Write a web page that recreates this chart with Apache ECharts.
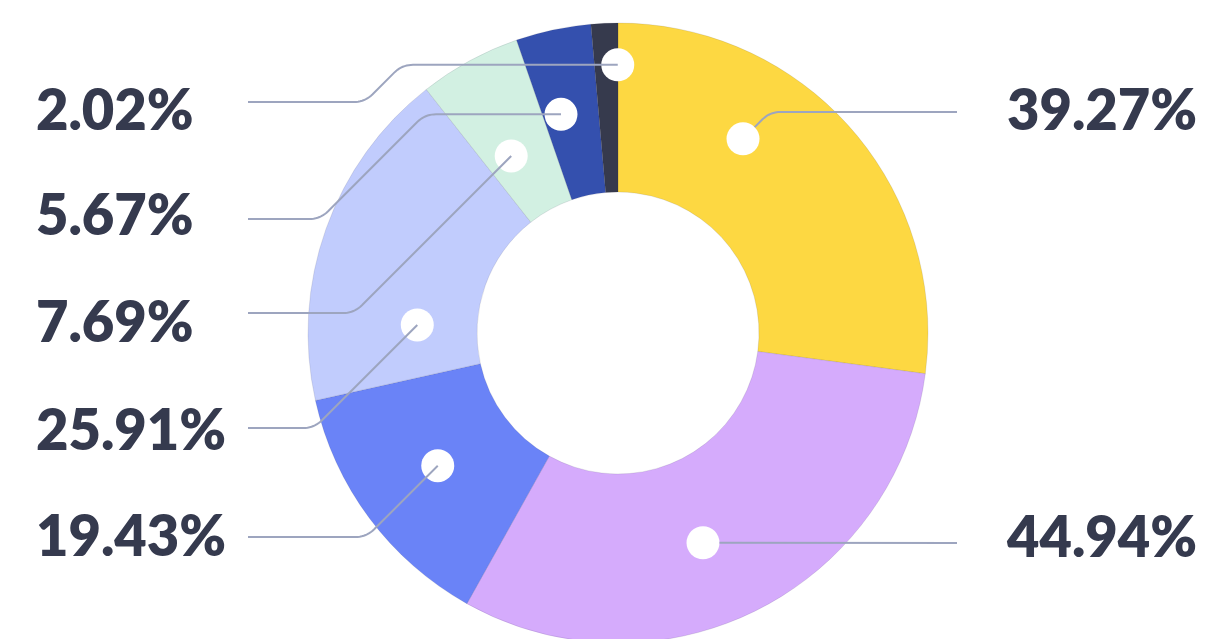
<!DOCTYPE html>
<html>
<head>
<meta charset="utf-8">
<style>
  html, body { margin: 0; padding: 0; background: #ffffff; }
  #chart { width: 1205px; height: 639px; }
</style>
<script src="https://cdn.jsdelivr.net/npm/echarts@6/dist/echarts.min.js"></script>
</head>
<body>
<div id="chart"></div>
<script>
// Segments, clockwise from 12 o'clock
const segmentNames = ['Segment A', 'Segment B', 'Segment C', 'Segment D', 'Segment E', 'Segment F', 'Segment G'];
const segmentValues = [39.27, 44.94, 19.43, 25.91, 7.69, 5.67, 2.02];
const segmentColors = ['#FDD842', '#D5ABFC', '#6A83F7', '#C1CCFD', '#D2F0E2', '#3450AE', '#363A4D'];

// Label layout (pixels): which column, row of the text, row of the leader's last run
const labelSide = ['right', 'right', 'left', 'left', 'left', 'left', 'left'];
const labelRowY = [112, 539, 538, 432, 324, 217, 112];
const leaderRowY = [112, 543, 537, 428, 313, 219, 102];
const leaderKneeX = [null, null, null, null, null, 425, 402];
// Leader start inside each slice: fraction of the sweep, fraction of the outer radius
const anchorSweep = [0.336, 0.541, 0.507, 0.231, 0.372, 0.319, 0.99];
const anchorRadius = [0.745, 0.73, 0.722, 0.648, 0.667, 0.729, 0.865];

const TEXT_COLOR = '#353A4E';
const LEADER_COLOR = '#9DA5BF';
const DOT_R = 16.5;
const columnX = { left: 36, right: 1007 };
const leaderEndX = { left: 248, right: 957 };

const chart = echarts.init(document.getElementById('chart'), null, { renderer: 'canvas' });

chart.setOption({
  animation: false,
  backgroundColor: '#ffffff',
  series: [{
    type: 'pie',
    center: [618, 333],
    radius: [141, 310],
    startAngle: 90,
    clockwise: true,
    avoidLabelOverlap: false,
    silent: true,
    itemStyle: { borderColor: 'rgba(40,40,60,0.22)', borderWidth: 0.5 },
    label: {
      show: true,
      position: 'outside',
      formatter: p => p.value.toFixed(2) + '%',
      fontFamily: 'Lato',
      fontWeight: 800,
      fontSize: 56,
      color: TEXT_COLOR
    },
    labelLine: { show: false },
    labelLayout: p => ({
      x: columnX[labelSide[p.dataIndex]],
      y: labelRowY[p.dataIndex],
      align: 'left',
      verticalAlign: 'middle'
    }),
    data: segmentValues.map((v, i) => ({
      name: segmentNames[i],
      value: v,
      itemStyle: { color: segmentColors[i] }
    }))
  }]
});

// Polyline with softened corners (quadratic corner sampled into points)
function roundedPoints(pts, rad) {
  const clean = [pts[0]];
  for (let k = 1; k < pts.length; k++) {
    const q = clean[clean.length - 1];
    if (Math.hypot(pts[k][0] - q[0], pts[k][1] - q[1]) > 0.5) clean.push(pts[k]);
  }
  if (clean.length < 3) return clean;
  const out = [clean[0]];
  for (let k = 1; k < clean.length - 1; k++) {
    const p0 = clean[k - 1], p1 = clean[k], p2 = clean[k + 1];
    const l1 = Math.hypot(p1[0] - p0[0], p1[1] - p0[1]);
    const l2 = Math.hypot(p2[0] - p1[0], p2[1] - p1[1]);
    const c = Math.min(rad, l1 / 2, l2 / 2);
    const a = [p1[0] + (p0[0] - p1[0]) * c / l1, p1[1] + (p0[1] - p1[1]) * c / l1];
    const b = [p1[0] + (p2[0] - p1[0]) * c / l2, p1[1] + (p2[1] - p1[1]) * c / l2];
    const steps = 10;
    for (let s = 0; s <= steps; s++) {
      const t = s / steps, u = 1 - t;
      out.push([
        u * u * a[0] + 2 * u * t * p1[0] + t * t * b[0],
        u * u * a[1] + 2 * u * t * p1[1] + t * t * b[1]
      ]);
    }
  }
  out.push(clean[clean.length - 1]);
  return out;
}

// Anchor dots and leader lines, placed from the pie's own slice layout
function buildLeaders() {
  const data = chart.getModel().getSeriesByIndex(0).getData();
  const dots = [];
  const leaders = [];
  segmentValues.forEach((v, i) => {
    const L = data.getItemLayout(i);
    const ang = L.startAngle + anchorSweep[i] * (L.endAngle - L.startAngle);
    const rr = anchorRadius[i] * L.r;
    const px = L.cx + rr * Math.cos(ang);
    const py = L.cy + rr * Math.sin(ang);
    dots.push({
      type: 'circle', z: 20, silent: true,
      shape: { cx: px, cy: py, r: DOT_R },
      style: { fill: '#ffffff' }
    });

    const side = labelSide[i];
    const dir = side === 'left' ? -1 : 1;
    const pts = [[px, py]];
    let x = px, y = py;
    if (leaderKneeX[i] !== null) { x = leaderKneeX[i]; pts.push([x, y]); }
    const dy = leaderRowY[i] - y;
    x += dir * Math.abs(dy); y = leaderRowY[i];
    pts.push([x, y]);
    pts.push([leaderEndX[side], y]);

    // right-hand leaders begin at the rim of their dot
    if (side === 'right') {
      let j = 1;
      while (j < pts.length - 1 && Math.hypot(pts[j][0] - px, pts[j][1] - py) < DOT_R) j++;
      const nx = pts[j][0] - px, ny = pts[j][1] - py;
      const len = Math.hypot(nx, ny);
      pts.splice(0, j, [px + nx / len * DOT_R, py + ny / len * DOT_R]);
    }

    leaders.push({
      type: 'polyline', z: 21, silent: true,
      shape: { points: roundedPoints(pts, 11) },
      style: { fill: null, stroke: LEADER_COLOR, lineWidth: 2 }
    });
  });
  chart.setOption({ graphic: dots.concat(leaders) });
}

buildLeaders();
</script>
</body>
</html>
